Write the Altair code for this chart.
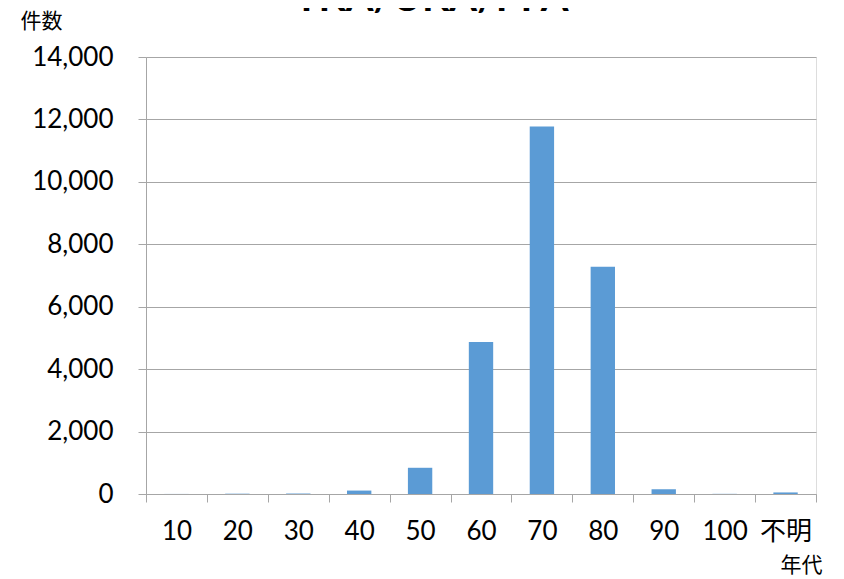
import altair as alt
import pandas as pd

categories = ["10", "20", "30", "40", "50", "60", "70", "80", "90", "100", "不明"]
counts = [2, 10, 15, 110, 840, 4870, 11770, 7280, 150, 5, 50]
y_ticks = [0, 2000, 4000, 6000, 8000, 10000, 12000, 14000]
chart_title = ["TKA/UKA/PFA"]

df = pd.DataFrame({"age": categories, "count": counts})
tdf = pd.DataFrame({"t": chart_title})

LATIN = "Lato, 'Noto Sans CJK JP'"
CJK = "'Noto Sans CJK JP'"
GRID = "#A6A6A6"

bars = alt.Chart(df).mark_bar(
    color="#5B9BD5", width=alt.RelativeBandSize(0.4)
).encode(
    x=alt.X(
        "age:N",
        sort=categories,
        scale=alt.Scale(paddingInner=0, paddingOuter=0),
        axis=alt.Axis(
            title="年代",
            titleFont=CJK,
            titleFontSize=21,
            titleFontWeight="normal",
            titleColor="black",
            titleAngle=0,
            titleAlign="center",
            titleBaseline="middle",
            titleX=655,
            titleY=71,
            labelAngle=0,
            labelFont=LATIN,
            labelFontSize=26,
            labelColor="black",
            labelPadding=16,
            tickBand="extent",
            tickSize=8,
            tickColor=GRID,
            domainColor=GRID,
            grid=False,
        ),
    ),
    y=alt.Y(
        "count:Q",
        scale=alt.Scale(domain=[0, 14000], nice=False),
        axis=alt.Axis(
            values=y_ticks,
            format=",d",
            title="件数",
            titleFont=CJK,
            titleFontSize=21,
            titleFontWeight="normal",
            titleColor="black",
            titleAngle=0,
            titleAlign="center",
            titleBaseline="middle",
            titleX=-105,
            titleY=-36,
            labelFont=LATIN,
            labelFontSize=26,
            labelColor="black",
            labelPadding=25,
            tickSize=8,
            tickColor=GRID,
            domainColor=GRID,
            gridColor=GRID,
            gridWidth=1,
        ),
    ),
)

title = alt.Chart(tdf).mark_text(
    font="Lato",
    fontSize=40,
    fontWeight="bold",
    align="center",
    baseline="alphabetic",
    color="black",
).encode(
    text="t:N",
    x=alt.value(285.5),
    y=alt.value(-46),
)

chart = alt.layer(bars, title).properties(
    width=670,
    height=437,
    autosize=alt.AutoSizeParams(type="none"),
    padding={"left": 138, "top": 49, "right": 20, "bottom": 85},
).configure_view(stroke=None).configure(background="white")

chart.save("out.html", embed_options={"renderer": "svg", "actions": False})
